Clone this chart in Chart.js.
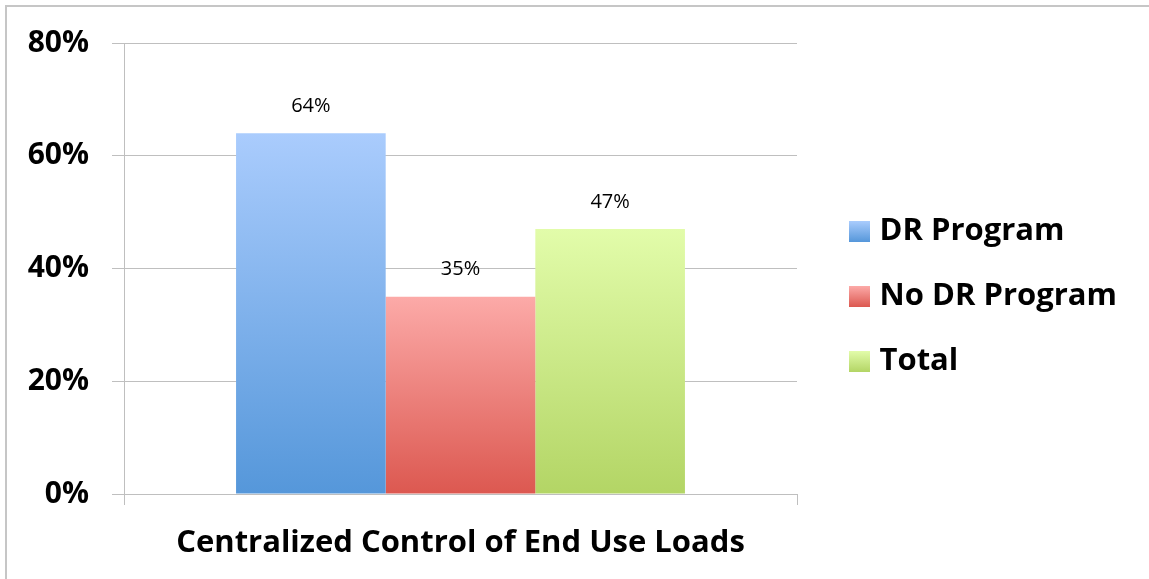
<!DOCTYPE html>
<html>
<head>
<meta charset="utf-8">
<script src="https://cdn.jsdelivr.net/npm/chart.js@4/dist/chart.umd.min.js"></script>
<style>
  html, body { margin: 0; padding: 0; background: #fff; }
  #frame {
    position: absolute; left: 5px; top: 5px; width: 1144px; height: 574px;
    border-top: 2px solid #c6c6c6; border-left: 2px solid #c6c6c6;
  }
  #wrap { position: absolute; left: 0; top: 0; width: 1149px; height: 579px; }
</style>
</head>
<body>
<div id="frame"></div>
<div id="wrap"><canvas id="myChart" width="1149" height="579"></canvas></div>
<script>
const categories = ['Centralized Control of End Use Loads'];
const seriesNames = ['DR Program', 'No DR Program', 'Total'];
const drProgram = [64];
const noDrProgram = [35];
const total = [47];
const yTicks = [0, 20, 40, 60, 80];

// top / bottom colours of each bar's vertical gradient
const shades = [
    ['#aaccfd', '#5597da'],
    ['#fcaaa8', '#dc5850'],
    ['#e2fcaa', '#b3d565'],
];

const FONT = '"Open Sans", sans-serif';
const LEGEND_SIZE = 31;
const LEGEND_PAD = 34;
const BOX = 21;           // swatch size
const BOX_SLOT = 15;      // space the legend reserves before the text gap
const PLOT_RIGHT = 807;   // target plot right edge (legend measures ~10px wider)
const LEGEND_LEFT = 815;  // legend box left edge
const LEGEND_TOP = 182;

// work out how much room the legend takes so the plot ends near PLOT_RIGHT
const measure = document.createElement('canvas').getContext('2d');
measure.font = 'bold ' + LEGEND_SIZE + 'px ' + FONT;
const longest = Math.max(...seriesNames.map(s => measure.measureText(s).width));
const legendWidth = LEGEND_PAD + BOX_SLOT + LEGEND_SIZE / 2 + longest;
const padRight = 1149 - PLOT_RIGHT - legendWidth;

const barGradient = (i) => (c) => {
    const chart = c.chart;
    const y = chart.scales.y;
    if (!chart.chartArea || !y || c.raw === undefined) return shades[i][1];
    const top = y.getPixelForValue(c.raw);
    const bottom = y.getPixelForValue(0);
    const g = chart.ctx.createLinearGradient(0, top, 0, bottom);
    g.addColorStop(0, shades[i][0]);
    g.addColorStop(1, shades[i][1]);
    return g;
};

const makeSet = (label, values, i) => ({
    label: label,
    data: values,
    backgroundColor: barGradient(i),
    borderWidth: 0,
    categoryPercentage: 0.667,
    barPercentage: 1,
});

// value labels above the bars
const valueLabels = {
    id: 'valueLabels',
    afterDatasetsDraw(chart) {
        const ctx = chart.ctx;
        ctx.save();
        ctx.font = '20px ' + FONT;
        ctx.fillStyle = '#000';
        ctx.textAlign = 'center';
        ctx.textBaseline = 'middle';
        chart.data.datasets.forEach((ds, i) => {
            chart.getDatasetMeta(i).data.forEach((bar, j) => {
                ctx.fillText(ds.data[j] + '%', bar.x, bar.y - 27);
            });
        });
        ctx.restore();
    }
};

// legend placement and gradient swatches
const legendTweak = {
    id: 'legendTweak',
    afterLayout(chart) {
        const lg = chart.legend;
        const dx = LEGEND_LEFT - lg.left;
        lg.left += dx;
        lg.right += dx;
        const dy = LEGEND_TOP - lg.top;
        lg.top += dy;
        lg.bottom += dy;
    },
    afterDraw(chart) {
        const lg = chart.legend;
        const ctx = chart.ctx;
        (lg.legendHitBoxes || []).forEach((hb, i) => {
            const top = hb.top + Math.max((LEGEND_SIZE - BOX) / 2, 0);
            const g = ctx.createLinearGradient(0, top, 0, top + BOX);
            g.addColorStop(0, shades[i][0]);
            g.addColorStop(1, shades[i][1]);
            ctx.fillStyle = g;
            ctx.fillRect(hb.left, top, BOX, BOX);
        });
    }
};

const ctx = document.getElementById('myChart').getContext('2d');

const config = {
    type: 'bar',
    data: {
        labels: categories,
        datasets: [
            makeSet(seriesNames[0], drProgram, 0),
            makeSet(seriesNames[1], noDrProgram, 1),
            makeSet(seriesNames[2], total, 2),
        ]
    },
    options: {
        responsive: false,
        animation: false,
        layout: { padding: { top: 43, right: padRight, bottom: 0, left: 0 } },
        scales: {
            y: {
                min: yTicks[0],
                max: yTicks[yTicks.length - 1],
                afterFit: (scale) => { scale.width = 124; },
                afterBuildTicks: (scale) => { scale.ticks = yTicks.map(v => ({ value: v })); },
                border: { color: '#bfbfbf', width: 1 },
                grid: { color: '#bfbfbf', tickLength: 12 },
                ticks: {
                    padding: 23,
                    color: '#000',
                    font: { family: FONT, size: 30, weight: 'bold' },
                    callback: (v) => v + '%'
                }
            },
            x: {
                afterFit: (scale) => { scale.height = 85; },
                border: { color: '#bfbfbf', width: 1 },
                grid: { color: '#bfbfbf', drawOnChartArea: false, tickLength: 11, offset: true },
                ticks: {
                    padding: 20,
                    color: '#000',
                    font: { family: FONT, size: 31, weight: 'bold' }
                }
            }
        },
        plugins: {
            legend: {
                position: 'right',
                align: 'start',
                maxWidth: 600,
                labels: {
                    boxWidth: BOX_SLOT,
                    boxHeight: BOX,
                    padding: LEGEND_PAD,
                    color: '#000',
                    font: { family: FONT, size: LEGEND_SIZE, weight: 'bold' }
                }
            },
            tooltip: { enabled: false }
        }
    },
    plugins: [valueLabels, legendTweak]
};

let myChart = new Chart(ctx, config);
</script>
</body>
</html>
